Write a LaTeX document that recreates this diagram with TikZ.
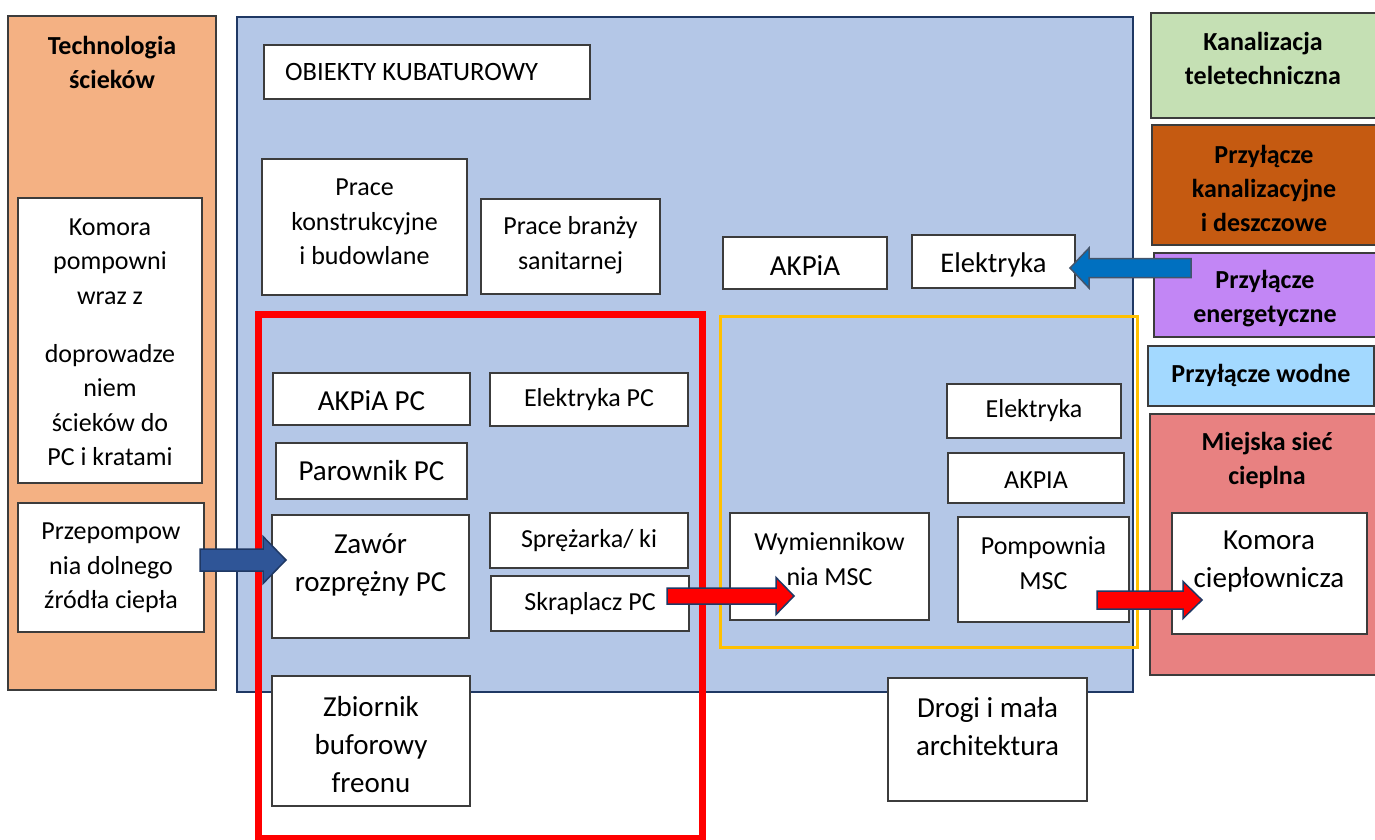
\documentclass[tikz,border=0pt]{standalone}
\usepackage{fontspec}
\setmainfont{Carlito}
\usetikzlibrary{fit,calc}
\definecolor{cOrange}{HTML}{F4B183}
\definecolor{cBlue}{HTML}{B4C7E7}
\definecolor{cNavy}{HTML}{1F3864}
\definecolor{cGreen}{HTML}{C5E0B4}
\definecolor{cBrown}{HTML}{C55A11}
\definecolor{cPurple}{HTML}{C286F5}
\definecolor{cLight}{HTML}{A3D9FF}
\definecolor{cPink}{HTML}{E88181}
\definecolor{cYellow}{HTML}{FFC000}
\definecolor{cBorder}{HTML}{3C3C3C}
\definecolor{cArrBlue}{HTML}{0070C0}
\definecolor{cArrGray}{HTML}{44546A}
\definecolor{cArrNavy}{HTML}{2F5597}
\newcommand{\blkarr}[6]{%
  \draw[#1] let \p1=(#2), \p2=(#3), \n1={(\x2>\x1)?1:-1} in
   (\x1,{\y1+#4}) -- ({\x2-\n1*#6},{\y1+#4}) -- ({\x2-\n1*#6},{\y1+#5}) -- (\x2,\y1)
   -- ({\x2-\n1*#6},{\y1-#5}) -- ({\x2-\n1*#6},{\y1-#4}) -- (\x1,{\y1-#4}) -- cycle;}
\begin{document}
\begin{tikzpicture}[x=1pt,y=-1pt,
  panel/.style={draw=cBorder, line width=1.4pt, inner sep=0pt},
  wbox/.style={draw=cBorder, fill=white, line width=1.4pt, inner sep=0pt},
  tA/.style={font=\fontsize{26}{34.5}\selectfont, align=center, inner sep=0pt},
  tB/.style={font=\fontsize{29}{38}\selectfont, align=center, inner sep=0pt},
  tT/.style={font=\bfseries\fontsize{26}{34}\selectfont, align=center, inner sep=0pt},
  redframe/.style={draw=red, line width=7pt},
  yelframe/.style={draw=cYellow, line width=3pt},
  arrblue/.style={fill=cArrBlue, draw=cArrGray, line width=1.5pt, line join=miter},
  arrnavy/.style={fill=cArrNavy, draw=cNavy, line width=1.5pt, line join=miter},
  arrred/.style={fill=red, draw=cNavy, line width=1.5pt, line join=miter}]
\useasboundingbox (0,0) rectangle (1375,839);
\fill[white] (0,0) rectangle (1375,839);

% left panel
\node[panel, fill=cOrange, fit={(8,16)(216,690)}] (tech) {};
\node[tT] (techt) at (112,62) {Technologia\\ścieków};
\node[wbox, fit={(18,198)(202,483)}] (komp) {};
\node[tA] (kompt) at (110,342) {Komora\\pompowni\\wraz z\\[23.5pt]doprowadze\\niem\\ścieków do\\PC i kratami};
\node[wbox, fit={(18,503)(204,632)}] (przep) {};
\node[tA] (przept) at (111,568) {Przepompow\\nia dolnego\\źródła ciepła};

% main panel
\node[draw=cNavy, fill=cBlue, line width=2pt, inner sep=0pt, fit={(237,17)(1133,692)}] (main) {};
\node[wbox, fit={(264,45)(590,99)}] (obk) {};
\node[font=\fontsize{26.5}{30}\selectfont, anchor=west, inner sep=0pt] (obkt) at (285,72) {OBIEKTY KUBATUROWY};
\node[wbox, fit={(262,159)(467,295)}] (prk) {};
\node[tA] (prkt) at (364.5,222) {Prace\\konstrukcyjne\\i budowlane};
\node[wbox, fit={(481,199)(660,294)}] (prs) {};
\node[tA] (prst) at (570.5,245) {Prace branży\\sanitarnej};
\node[wbox, fit={(723,237)(887,289)}] (akpia) {};
\node[tB] (akpiat) at (805,266) {AKPiA};
\node[wbox, fit={(912,235)(1075,288)}] (elek) {};
\node[font=\fontsize{28.5}{34}\selectfont, inner sep=0pt] (elekt) at (993.5,265) {Elektryka};

% heat pump group
\node[wbox, fit={(273,373)(470,425)}] (akpc) {};
\node[tB] (akpct) at (371.5,401) {AKPiA PC};
\node[wbox, fit={(490,373)(688,426)}] (elpc) {};
\node[tA] (elpct) at (589,400) {Elektryka PC};
\node[wbox, fit={(276,443)(467,499)}] (parpc) {};
\node[tB] (parpct) at (371.5,471) {Parownik PC};
\node[wbox, fit={(272,515)(469,638)}] (zaw) {};
\node[tB] (zawt) at (370.5,565) {Zawór\\rozprężny PC};
\node[wbox, fit={(490,513)(688,568)}] (spr) {};
\node[tA] (sprt) at (589,541) {Sprężarka/ ki};
\node[wbox, fit={(491,576)(689,631)}] (skr) {};
\node[tA] (skrt) at (590,604) {Skraplacz PC};
\node[wbox, fit={(272,676)(470,806)}] (zbi) {};
\node[tB] (zbit) at (371,745) {Zbiornik\\buforowy\\freonu};

% MSC group
\node[wbox, fit={(947,384)(1121,438)}] (el2) {};
\node[tA] (el2t) at (1034,411) {Elektryka};
\node[wbox, fit={(948,453)(1124,503)}] (akp2) {};
\node[tA] (akp2t) at (1036,480) {AKPIA};
\node[wbox, fit={(730,513)(929,620)}] (wym) {};
\node[tA] (wymt) at (829.5,559) {Wymiennikow\\nia MSC};
\node[wbox, fit={(958,517)(1129,622)}] (pomp) {};
\node[tA] (pompt) at (1043.5,563) {Pompownia\\MSC};
\node[wbox, fit={(888,678)(1087,801)}] (drogi) {};
\node[tB] (drogit) at (987.5,727) {Drogi i mała\\architektura};

% frames
\draw[redframe] (258,314) rectangle (702,838);
\draw[yelframe] (720,316) rectangle (1137,647);

% right panels
\node[panel, fill=cGreen, fit={(1151,13)(1377,118)}] (kan) {};
\node[tT] (kant) at (1263,58.5) {Kanalizacja\\teletechniczna};
\node[panel, fill=cBrown, fit={(1152,125)(1377,245)}] (pkd) {};
\node[tT] (pkdt) at (1264,188.5) {Przyłącze\\kanalizacyjne\\i deszczowe};
\node[panel, fill=cPurple, fit={(1154,253)(1377,337)}] (pen) {};
\node[tT] (pent) at (1265,298.5) {Przyłącze\\energetyczne};
\node[panel, fill=cLight, fit={(1148,346)(1374,406)}] (pwo) {};
\node[tT] (pwot) at (1261,375) {Przyłącze wodne};
\node[panel, fill=cPink, fit={(1150,414)(1377,675)}] (msc) {};
\node[tT] (msct) at (1267,460) {Miejska sieć\\cieplna};
\node[wbox, fit={(1172,513)(1367,634)}] (kcp) {};
\node[tB] (kcpt) at (1269,562) {Komora\\ciepłownicza};

% block arrows
\coordinate (b1s) at (1191,268);
\coordinate (b1e) at (1070,268);
\coordinate (n1s) at (200,560);
\coordinate (n1e) at (286,560);
\coordinate (r1s) at (667,596);
\coordinate (r1e) at (794,596);
\coordinate (r2s) at (1097,600);
\coordinate (r2e) at (1202,600);
\blkarr{arrblue}{b1s}{b1e}{9.5pt}{20pt}{19pt}
\blkarr{arrnavy}{n1s}{n1e}{11pt}{23.5pt}{23pt}
\blkarr{arrred}{r1s}{r1e}{8pt}{18.5pt}{18pt}
\blkarr{arrred}{r2s}{r2e}{9pt}{18.5pt}{19pt}
\end{tikzpicture}
\end{document}
